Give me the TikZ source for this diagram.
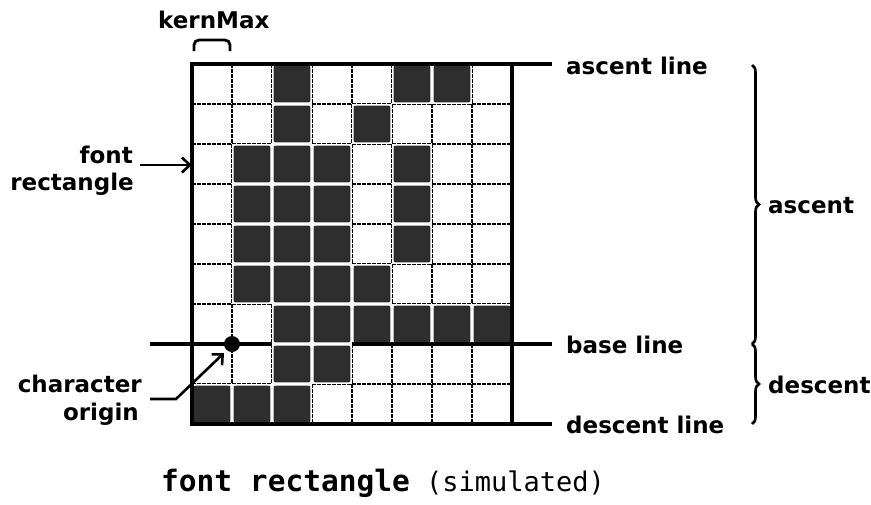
\documentclass[tikz,border=0pt]{standalone}
\usepackage{fontspec}
\setmainfont{DejaVu Sans}
\setmonofont{DejaVu Sans Mono}
\usetikzlibrary{arrows.meta,decorations.pathreplacing}
\begin{document}
\begin{tikzpicture}[x=1pt,y=-1pt,
  lbl/.style={font=\fontsize{23}{28}\selectfont\bfseries, inner sep=0pt},
  darkcell/.style={fill=black!82, rounded corners=2pt},
  gridline/.style={line width=2.2pt, dash pattern=on 4pt off 1pt},
  border/.style={line width=4.4pt},
  refline/.style={line width=3.6pt},
  arr/.style={line width=2.6pt, -{Straight Barb[length=8pt,width=15pt]}},
  bracestyle/.style={line width=2.6pt, decorate, decoration={brace, amplitude=7pt}}
]
\useasboundingbox (0,0) rectangle (871,504);
\fill[white] (0,0) rectangle (871,504);
% grid node
\node[minimum width=320pt, minimum height=360pt, inner sep=0pt, draw=none] (grid) at (352,244) {};
% interior grid lines
\foreach \c in {1,...,7} \draw[gridline] ({192+40*\c},64) -- ({192+40*\c},424);
\foreach \r in {1,...,8} \draw[gridline] (192,{64+40*\r}) -- (512,{64+40*\r});
% dark cells (white gaps between neighbouring dark cells)
\foreach \r/\c in {0/2,0/5,0/6,1/2,1/4,2/1,2/2,2/3,2/5,3/1,3/2,3/3,3/5,4/1,4/2,4/3,4/5,5/1,5/2,5/3,5/4,6/2,6/3,6/4,6/5,6/6,6/7,7/2,7/3,8/0,8/1,8/2}
  {\fill[white] ({192+40*\c},{64+40*\r}) rectangle ++(40,40);
   \fill[darkcell] ({192+40*\c+1.6},{64+40*\r+1.6}) rectangle ++(36.8,36.8);}
% base line
\coordinate (bl0) at (150,344);
\coordinate (bl1) at (552,344);
\draw[refline] (bl0) -- (272,344);
\draw[refline] (352,344) -- (bl1);
% border
\draw[border] (grid.north west) rectangle (grid.south east);
% ascent and descent lines
\coordinate (al0) at (512,64);
\coordinate (al1) at (552,64);
\coordinate (dl0) at (512,424);
\coordinate (dl1) at (552,424);
\draw[refline] (al0) -- (al1);
\draw[refline] (dl0) -- (dl1);
% character origin dot
\node[circle, fill=black, minimum size=16pt, inner sep=0pt] (origin) at (232,344) {};
% line labels
\node[lbl, anchor=base west] (asl) at (566,74) {ascent line};
\node[lbl, anchor=base west] (bsl) at (566,353) {base line};
\node[lbl, anchor=base west] (dsl) at (566,433) {descent line};
% braces
\coordinate (br0) at (752,65);
\coordinate (br1) at (752,344);
\coordinate (br2) at (752,424);
\draw[bracestyle] (br0) -- (br1);
\draw[bracestyle] (br1) -- (br2);
\node[lbl, anchor=base west] (asc) at (768,213) {ascent};
\node[lbl, anchor=base west] (dsc) at (768,393) {descent};
% kernMax
\node[lbl, anchor=base west] (km) at (158,28) {kernMax};
\coordinate (kb0) at (194,51);
\coordinate (kb1) at (230,51);
\draw[line width=2.8pt, rounded corners=5pt] (kb0) -- (194,40) -- (230,40) -- (kb1);
% font rectangle label
\node[lbl, anchor=base east] (frl) at (133,163) {font};
\node[lbl, anchor=base east] (frl2) at (134,190) {rectangle};
\coordinate (fra) at (140,165);
\draw[arr] (fra) -- (fra -| grid.west);
% character origin label
\node[lbl, anchor=base east] (col) at (142,392) {character};
\node[lbl, anchor=base east] (col2) at (139,420) {origin};
\coordinate (coa) at (150,399);
\coordinate (cob) at (176,399);
\coordinate (coc) at (224,353);
\draw[arr] (coa) -- (cob) -- (coc);
% caption
\node[anchor=base west, inner sep=0pt] (cap) at (161,491)
  {\fontsize{29.5}{34}\selectfont\ttfamily\bfseries font rectangle\fontsize{27}{32}\selectfont\mdseries\ (simulated)};
\end{tikzpicture}
\end{document}
